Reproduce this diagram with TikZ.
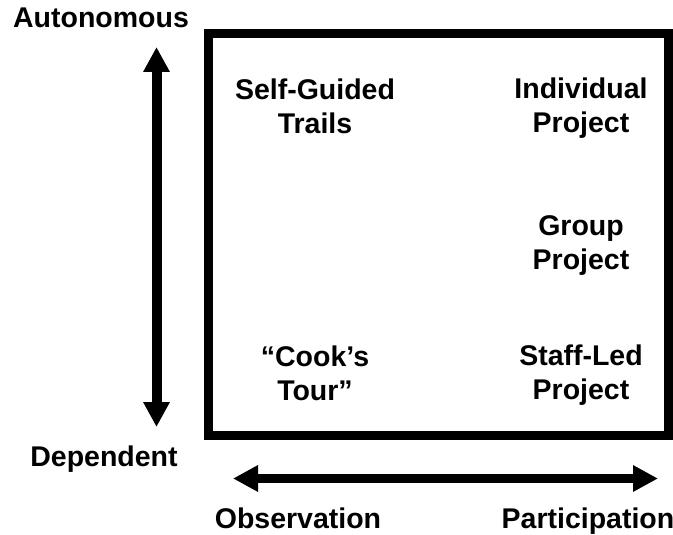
\documentclass[tikz,border=0pt]{standalone}
\usepackage{fontspec}
\setmainfont{Liberation Sans}
\usetikzlibrary{arrows.meta}

\tikzset{
  every node/.style={font=\fontsize{28.5}{34}\selectfont\bfseries, align=center, inner sep=0pt},
  axis/.style={line width=10pt, {Triangle[length=25pt,width=25pt]}-{Triangle[length=25pt,width=25pt]}}
}

\begin{document}
\begin{tikzpicture}[x=1pt,y=-1pt]
    \useasboundingbox (0,0) rectangle (673,535);
    \draw[line width=8.5pt] (208.5,33.5) rectangle (668.5,435.5);
    % axes
    \coordinate (top) at (156.5,47);
    \coordinate (bottom) at (156.5,427);
    \coordinate (left) at (233,478.5);
    \coordinate (right) at (658,478.5);
    \draw[axis] (top) -- (bottom);
    \draw[axis, line width=9pt] (left) -- (right);
    % axis labels
    \node[anchor=base] (autonomous) at (101,28) {Autonomous};
    \node[anchor=base] (dependent) at (104,466) {Dependent};
    \node[anchor=base] (observation) at (298,528) {Observation};
    \node[anchor=base] (participation) at (588,528) {Participation};
    % activities (base = last line)
    \node[anchor=base] (trails) at (315,133) {Self-Guided\\Trails};
    \node[anchor=base] (individual) at (581,132) {Individual\\Project};
    \node[anchor=base] (group) at (581,269) {Group\\Project};
    \node[anchor=base] (cook) at (315,400) {“Cook’s\\Tour”};
    \node[anchor=base] (staff) at (581,399) {Staff-Led\\Project};
\end{tikzpicture}
\end{document}
